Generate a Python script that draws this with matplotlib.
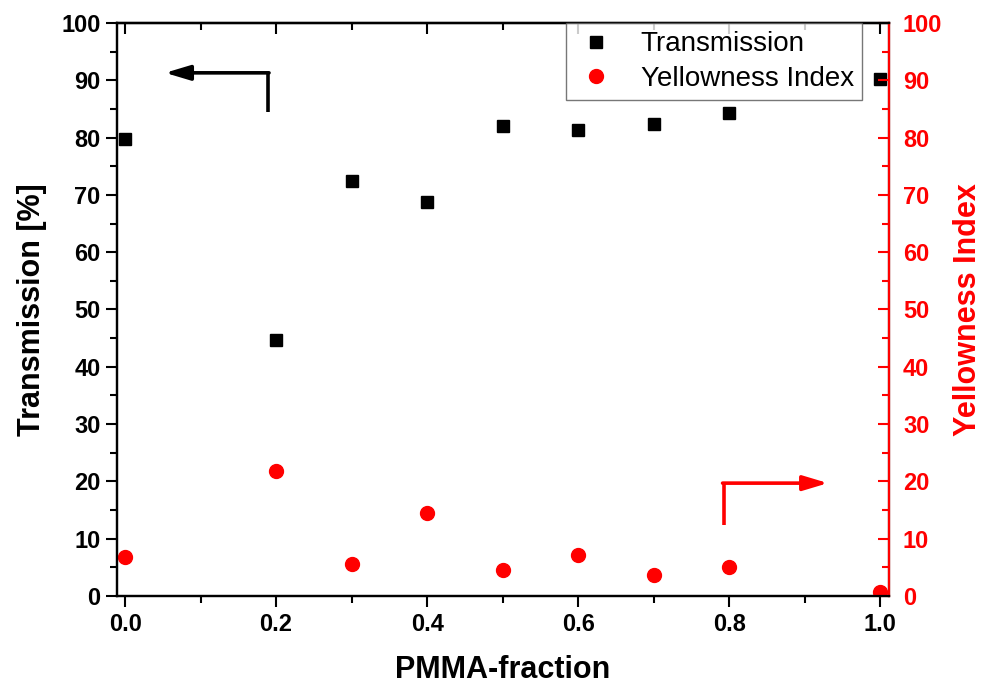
import matplotlib
matplotlib.use('Agg')
import matplotlib.pyplot as plt
from matplotlib.ticker import MultipleLocator

plt.rcParams['font.family'] = ['Liberation Sans', 'DejaVu Sans']

# data
pmma = [0.0, 0.2, 0.3, 0.4, 0.5, 0.6, 0.7, 0.8, 1.0]
transmission = [79.7, 44.7, 72.5, 68.7, 82.1, 81.4, 82.4, 84.3, 90.3]
yellowness = [6.8, 21.9, 5.6, 14.4, 4.5, 7.2, 3.6, 5.0, 0.75]

fig = plt.figure(figsize=(9.84, 6.88), dpi=100)
ax = fig.add_axes([0.119, 0.1337, 0.7845, 0.8329])
ax2 = ax.twinx()

h1, = ax.plot(pmma, transmission, 's', color='black', markersize=9, linestyle='none', label='Transmission')
h2, = ax2.plot(pmma, yellowness, 'o', color='red', markersize=10, linestyle='none', label='Yellowness Index')

ax.set_xlim(-0.0106, 1.0119)
ax.set_ylim(0, 100)
ax2.set_ylim(0, 100)

ax.xaxis.set_major_locator(MultipleLocator(0.2))
ax.xaxis.set_minor_locator(MultipleLocator(0.1))
ax.yaxis.set_major_locator(MultipleLocator(10))
ax.yaxis.set_minor_locator(MultipleLocator(5))
ax2.yaxis.set_major_locator(MultipleLocator(10))
ax2.yaxis.set_minor_locator(MultipleLocator(5))
ax.xaxis.set_major_formatter(matplotlib.ticker.FormatStrFormatter('%.1f'))

for s in ['left', 'bottom', 'top', 'right']:
    ax.spines[s].set_linewidth(1.6)
    ax2.spines[s].set_linewidth(1.6)
ax2.spines['right'].set_color('red')

# bottom ticks outward, top ticks inward (no labels)
ax.tick_params(axis='x', which='both', direction='out', top=False, width=1.5)
ax.tick_params(axis='x', which='major', length=8, labelsize=17, pad=4)
ax.tick_params(axis='x', which='minor', length=5)
ax.tick_params(axis='y', which='major', direction='out', length=8, width=1.5, labelsize=17, pad=4)
ax.tick_params(axis='y', which='minor', direction='out', length=5, width=1.5)
secx = ax.secondary_xaxis('top')
secx.xaxis.set_major_locator(MultipleLocator(0.2))
secx.xaxis.set_minor_locator(MultipleLocator(0.1))
secx.tick_params(which='both', direction='in', labeltop=False, width=1.5)
secx.tick_params(which='major', length=8)
secx.tick_params(which='minor', length=5)
secx.spines['top'].set_linewidth(1.6)

ax2.tick_params(axis='y', which='major', direction='in', length=8, width=1.5,
                colors='red', labelsize=17, pad=10)
ax2.tick_params(axis='y', which='minor', direction='in', length=5, width=1.5, colors='red')

for lbl in ax.get_xticklabels() + ax.get_yticklabels() + ax2.get_yticklabels():
    lbl.set_fontweight('bold')

ax.set_xlabel('PMMA-fraction', fontsize=22, fontweight='bold', labelpad=14)
ax.set_ylabel('Transmission [%]', fontsize=22, fontweight='bold', labelpad=10)
ax2.set_ylabel('Yellowness Index', fontsize=22, fontweight='bold', color='red', labelpad=8)

# arrows pointing at each axis
arrow_style = '-|>,head_length=1.5,head_width=0.45'
ax.plot([0.189, 0.189], [84.5, 91.3], color='black', lw=2.6, solid_capstyle='butt')
ax.annotate('', xy=(0.053, 91.3), xytext=(0.1906, 91.3),
            arrowprops=dict(arrowstyle=arrow_style, color='black', lw=2.6, shrinkA=0, shrinkB=0))
ax.plot([0.793, 0.793], [12.4, 19.7], color='red', lw=2.6, solid_capstyle='butt')
ax.annotate('', xy=(0.931, 19.7), xytext=(0.7914, 19.7),
            arrowprops=dict(arrowstyle=arrow_style, color='red', lw=2.6, shrinkA=0, shrinkB=0))

leg = ax2.legend(handles=[h1, h2], loc='upper right', bbox_to_anchor=(0.965, 1.0),
                 fontsize=20, frameon=True, fancybox=False, edgecolor='#555555',
                 borderaxespad=0, handletextpad=0.8, labelspacing=0.3, borderpad=0.3,
                 handlelength=1.6)
leg.get_frame().set_linewidth(1.0)

fig.savefig('out.png', dpi=100)
